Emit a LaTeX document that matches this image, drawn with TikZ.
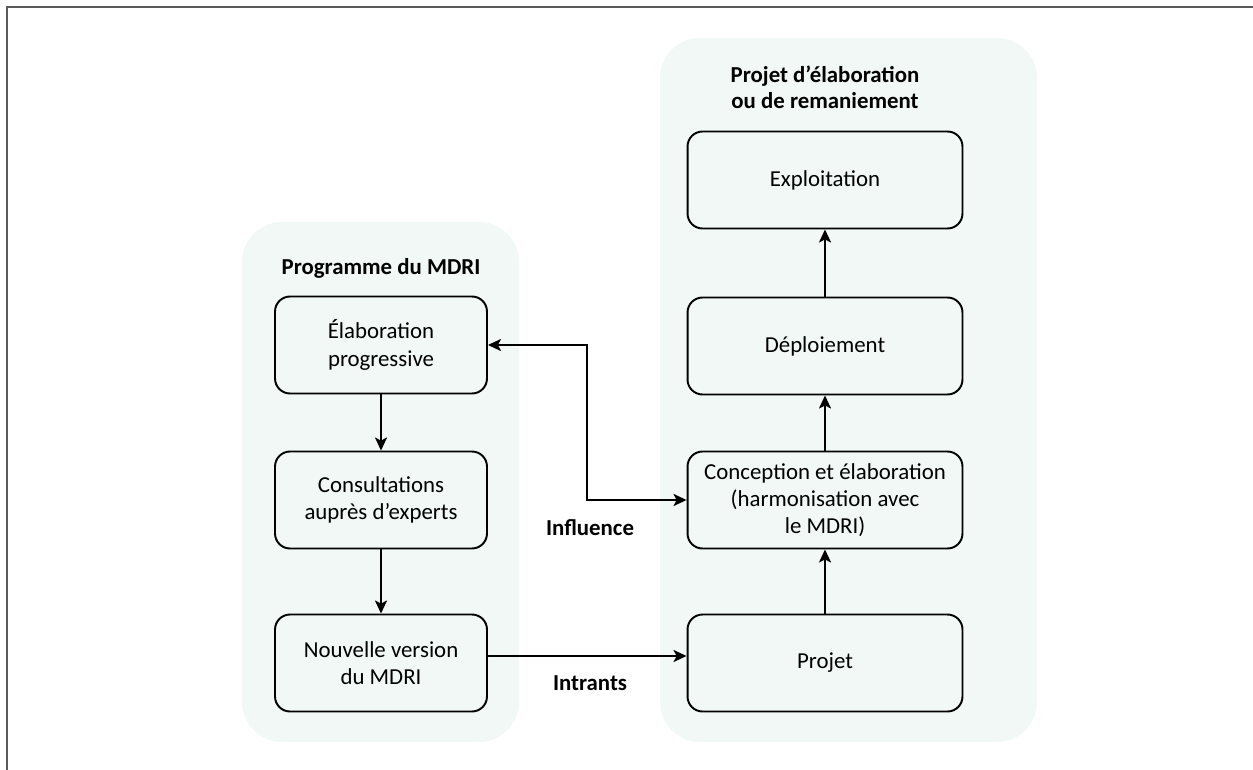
\documentclass[tikz,border=0pt]{standalone}
\usepackage{fontspec}
\setmainfont{Carlito}
\usetikzlibrary{arrows.meta}

\definecolor{panelfill}{RGB}{242,248,246}
\definecolor{framegray}{RGB}{90,90,90}

\tikzset{
    panel/.style={fill=panelfill, draw=none, rounded corners=0.8cm},
    stepbox/.style={draw, line width=1.1pt, rounded corners=0.3cm, align=center,
        minimum height=1.94cm, font=\fontsize{13}{15.5}\selectfont},
    leftbox/.style={stepbox, minimum width=4.24cm},
    rightbox/.style={stepbox, minimum width=5.5cm},
    title/.style={align=center, font=\fontsize{13}{14.8}\selectfont\bfseries},
    arrow/.style={-{Stealth[length=2.6mm, width=2.4mm, inset=0.6mm]}, line width=1.1pt}
}

\begin{document}
\begin{tikzpicture}[x=0.02cm, y=-0.02cm]

    \useasboundingbox (0,0) rectangle (1253,770);

    % Frame
    \draw[framegray, line width=1.2pt] (1253,7) -- (7,7) -- (7,770);

    % Panels
    \fill[panel] (242,222) rectangle (519,742);
    \fill[panel] (660,38) rectangle (1037,742);

    % Panel titles
    \node[title] (T-L) at (381,268) {Programme du MDRI};
    \node[title] (T-R) at (825,87) {Projet d’élaboration\\ou de remaniement};

    % Programme du MDRI
    \node[leftbox] (elab) at (381,345) {Élaboration\\progressive};
    \node[leftbox] (cons) at (381,500) {Consultations\\auprès d’experts};
    \node[leftbox] (nouv) at (381,663) {Nouvelle version\\du MDRI};

    % Projet d'elaboration ou de remaniement
    \node[rightbox] (expl) at (825,180) {Exploitation};
    \node[rightbox] (depl) at (825,346) {Déploiement};
    \node[rightbox] (conc) at (825,500) {Conception et élaboration\\(harmonisation avec\\le MDRI)};
    \node[rightbox] (proj) at (825,663) {Projet};

    % Connections
    \draw[arrow] (elab) -- (cons);
    \draw[arrow] (cons) -- (nouv);
    \draw[arrow] (proj) -- (conc);
    \draw[arrow] (conc) -- (depl);
    \draw[arrow] (depl) -- (expl);

    \coordinate (bend) at (587,500);
    \draw[arrow, {Stealth[length=2.6mm, width=2.4mm, inset=0.6mm]}-{Stealth[length=2.6mm, width=2.4mm, inset=0.6mm]}]
        (elab.east) -| (bend) -- (conc.west);
    \draw[arrow] (nouv.east |- 0,656) -- (proj.west |- 0,656);

    % Labels
    \node[title] (infl) at (590,528) {Influence};
    \node[title] (intr) at (590,683) {Intrants};

\end{tikzpicture}
\end{document}
